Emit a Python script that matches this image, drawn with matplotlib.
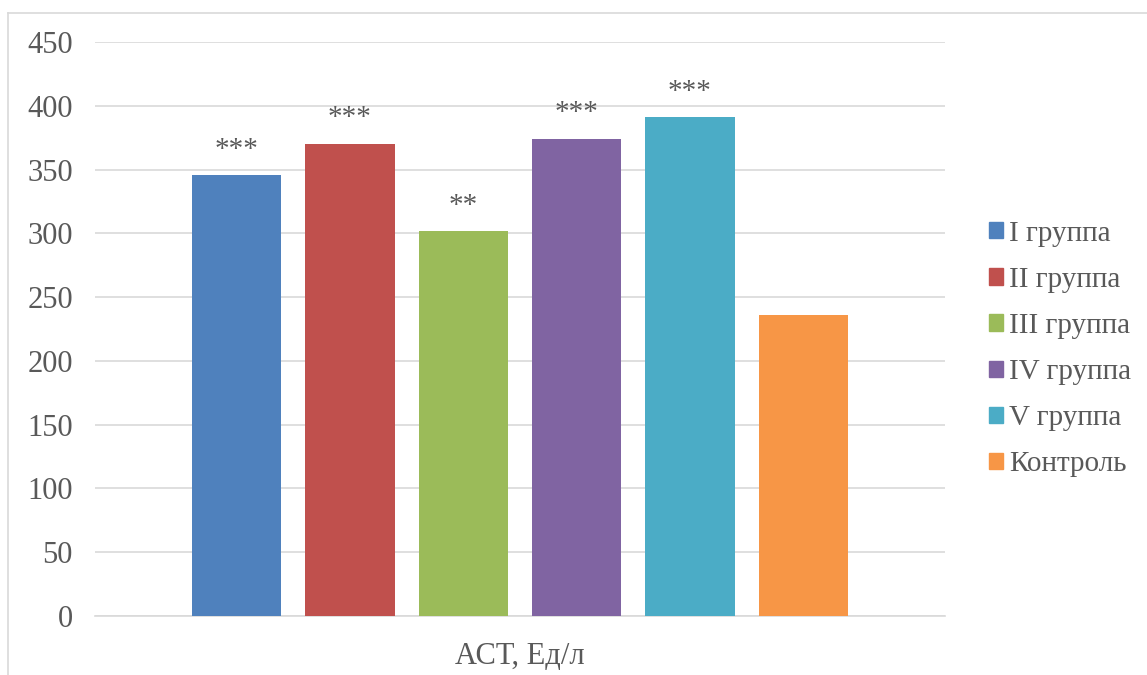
import matplotlib
matplotlib.use("Agg")
import matplotlib.pyplot as plt
from matplotlib.patches import Rectangle
from matplotlib.lines import Line2D

groups = ["I группа", "II группа", "III группа", "IV группа", "V группа", "Контроль"]
ast_values = [345.5, 370.0, 301.6, 374.0, 391.0, 235.7]
significance = ["***", "***", "**", "***", "***", ""]
colors = ["#4F81BD", "#C0504D", "#9BBB59", "#8064A2", "#4BACC6", "#F79646"]
yticks = [0, 50, 100, 150, 200, 250, 300, 350, 400, 450]
xlabel = "АСТ, Ед/л"

plt.rcParams["font.family"] = ["Liberation Serif", "DejaVu Serif"]
text_color = "#595959"

fig = plt.figure(figsize=(11.47, 6.75), dpi=100)
ax = fig.add_axes([95 / 1147, 1 - 616 / 675, 850 / 1147, 574 / 675])

positions = list(range(len(groups)))
bars = ax.bar(positions, ast_values, width=0.79, color=colors, zorder=3)

for x, v, s in zip(positions, ast_values, significance):
    if s:
        ax.text(x, v + 10, s, ha="center", va="bottom", fontsize=21,
                color=text_color)

ax.set_xlim(-1.25, 6.25)
ax.set_ylim(0, 450)
ax.set_yticks(yticks)
ax.set_yticklabels([str(t) for t in yticks], fontsize=22, color=text_color)
ax.tick_params(axis="y", length=0, pad=16)
ax.set_xticks([])
ax.grid(axis="y", color="#d9d9d9", linewidth=1.2, zorder=0)
for side in ["left", "right", "top"]:
    ax.spines[side].set_visible(False)
ax.spines["bottom"].set_color("#d9d9d9")
ax.spines["bottom"].set_linewidth(1.2)

fig.text(520 / 1147, 1 - 657 / 675, xlabel, ha="center", va="center",
         fontsize=22, color=text_color)

handles = [Rectangle((0, 0), 1, 1, color=c) for c in colors]
leg = fig.legend(handles, groups, loc="upper left",
                 bbox_to_anchor=(977 / 1147, 1 - 209 / 675),
                 frameon=False, fontsize=21, labelcolor=text_color,
                 handlelength=0.48, handleheight=0.48, handletextpad=0.22,
                 labelspacing=0.69, borderaxespad=0)

# light frame around the chart area
fig.add_artist(Line2D([8 / 1147, 1.0], [1 - 12.5 / 675, 1 - 12.5 / 675],
                      transform=fig.transFigure, color="#d9d9d9", linewidth=1.2))
fig.add_artist(Line2D([8 / 1147, 8 / 1147], [0, 1 - 12.5 / 675],
                      transform=fig.transFigure, color="#d9d9d9", linewidth=1.2))

fig.savefig("out.png", dpi=100, facecolor="white")
